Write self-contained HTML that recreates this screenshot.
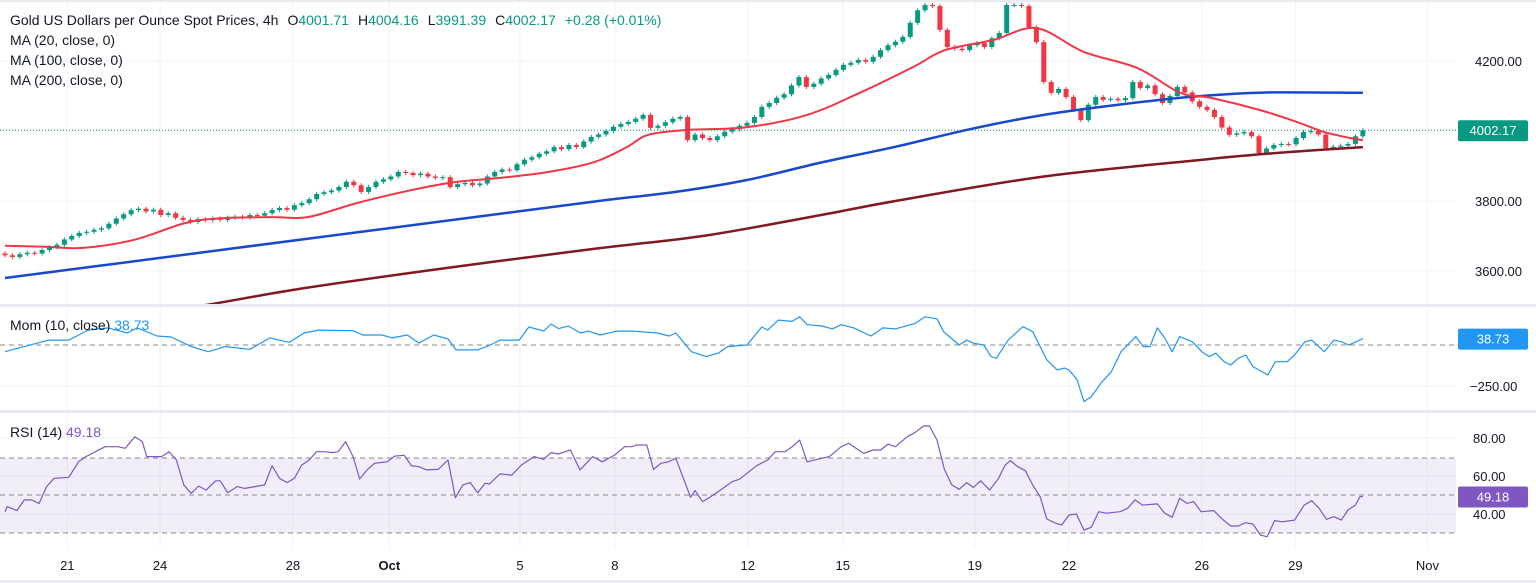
<!DOCTYPE html>
<html><head><meta charset="utf-8"><style>
html,body{margin:0;padding:0;background:#fff;}
svg{display:block;font-family:"Liberation Sans",sans-serif;}
</style></head><body>
<svg id="c" width="1536" height="583" viewBox="0 0 1536 583">
<defs>
<clipPath id="cp"><rect x="0" y="0" width="1456" height="304"/></clipPath>
<clipPath id="cm"><rect x="0" y="307" width="1456" height="103"/></clipPath>
<clipPath id="cr"><rect x="0" y="413" width="1456" height="135"/></clipPath>
</defs>
<rect x="0" y="0" width="1536" height="583" fill="#fff"/>
<g id="grid"></g>
<rect x="0" y="304" width="1536" height="3" fill="#e9ebf0"/>
<rect x="0" y="410" width="1536" height="3" fill="#e9ebf0"/>
<rect x="0" y="0" width="1536" height="2" fill="#e9ebf0"/>
<rect x="0" y="580" width="1536" height="3" fill="#e9ebf0"/>
<rect x="0" y="458" width="1456" height="75" fill="#7e57c2" fill-opacity="0.1"/>
<line x1="0" x2="1456" y1="458" y2="458" stroke="#888" stroke-dasharray="5,4"/>
<line x1="0" x2="1456" y1="495" y2="495" stroke="#888" stroke-dasharray="5,4"/>
<line x1="0" x2="1456" y1="533" y2="533" stroke="#888" stroke-dasharray="5,4"/>
<line x1="0" x2="1456" y1="345" y2="345" stroke="#888" stroke-dasharray="5,4"/>
<g id="price" clip-path="url(#cp)"></g>
<g id="mom" clip-path="url(#cm)"></g>
<g id="rsi" clip-path="url(#cr)"></g>
<g id="axes" font-size="13" fill="#131722"></g>
<g font-size="14">
<text x="10" y="25" fill="#131722">Gold US Dollars per Ounce Spot Prices, 4h<tspan dx="9">O</tspan><tspan fill="#089981">4001.71</tspan><tspan dx="9">H</tspan><tspan fill="#089981">4004.16</tspan><tspan dx="9">L</tspan><tspan fill="#089981">3991.39</tspan><tspan dx="9">C</tspan><tspan fill="#089981">4002.17</tspan><tspan dx="9" fill="#089981">+0.28 (+0.01%)</tspan></text>
<text x="10" y="45" fill="#131722">MA (20, close, 0)</text>
<text x="10" y="65" fill="#131722">MA (100, close, 0)</text>
<text x="10" y="85" fill="#131722">MA (200, close, 0)</text>
<text x="10" y="330" fill="#131722">Mom (10, close) <tspan fill="#2196f3">38.73</tspan></text>
<text x="10" y="437" fill="#131722">RSI (14) <tspan fill="#7e57c2">49.18</tspan></text>
</g>
</svg>
<script>
const closes=[3645,3640,3648,3652,3650,3660,3668,3675,3690,3700,3709,3712,3718,3722,3735,3750,3762,3774,3778,3770,3775,3760,3765,3752,3746,3740,3748,3745,3750,3746,3752,3755,3752,3760,3758,3765,3774,3780,3775,3788,3794,3805,3820,3825,3830,3840,3855,3845,3826,3840,3855,3862,3870,3883,3880,3874,3878,3870,3866,3868,3840,3848,3852,3845,3850,3870,3883,3890,3888,3905,3918,3925,3935,3942,3954,3948,3960,3954,3970,3983,3990,4000,4012,4020,4026,4035,4046,4009,4015,4025,4035,4040,3974,3990,3980,3974,3985,3998,4005,4015,4023,4040,4069,4080,4095,4105,4130,4154,4126,4135,4150,4160,4175,4189,4195,4203,4198,4212,4231,4245,4255,4269,4309,4345,4360,4357,4289,4240,4235,4231,4245,4251,4240,4265,4280,4360,4360,4357,4297,4254,4140,4109,4120,4097,4060,4031,4075,4097,4089,4092,4088,4094,4140,4123,4130,4105,4080,4100,4126,4110,4085,4069,4060,4040,4010,3989,3993,3997,3985,3937,3950,3960,3963,3962,3980,3997,4000,3990,3951,3955,3958,3963,3985,4002];
const firstOpen=3650;
const ma20Idx=[0,5.4,10.5,17.4,24.3,29.4,36,40.8,47.4,54.7,60.6,66.7,73.3,79.4,83.8,86.7,92,100.1,108.1,115.2,122.4,126.7,133.2,139,145.4,152.6,158.4,162.7,169.1,174.1,177.8,181.3,183];
const ma20Val=[3672,3669,3666,3689,3737,3751,3754,3754,3794,3831,3854,3866,3883,3911,3954,3989,4003,4011,4046,4109,4183,4231,4260,4294,4226,4180,4109,4094,4060,4026,3997,3980,3974];
const ma100Idx=[0,20,40,60,80,90,100,110,120,130,140,150,160,170,183];
const ma100Val=[3580,3635,3690,3745,3800,3825,3860,3910,3955,4005,4046,4075,4098,4110,4109];
const ma200Idx=[0,20,40,60,80,94,110,120,140,160,170,183];
const ma200Val=[3445,3480,3550,3610,3665,3700,3760,3800,3870,3915,3935,3954];
const momIdx=[0,2.6,5.9,8.6,11.2,13.9,16.5,17.8,20.5,22.4,25.1,27.4,29.7,33,35.7,38.3,40.3,42.3,46.9,48.2,50.8,52.2,54.2,55.8,57.8,59.7,60.8,63.7,65.4,66.7,69.3,70.6,72.6,73.6,74.6,75.9,77.6,78.6,80.2,82.5,84.5,87.9,89.5,90.4,92.5,94.5,96.1,97.4,100,102,102.8,104.2,106.1,107.1,108.1,110.1,111.5,112.7,114.4,116.7,118.3,120,122,122.6,124,125.6,126.5,128.6,129.6,130.6,131.9,132.9,133.6,135.2,137.2,138.5,140.4,141.8,142.8,143.4,144.5,145.4,146.4,147.7,149.1,150.4,152.4,153.4,154.3,155.3,156.3,157.3,158.3,160,161.3,162.3,163.2,164.3,165.2,166.2,167.2,168.2,170.2,171.2,172.8,173.8,175.2,176.1,177.8,179.1,180.1,181.1,182.1,183];
const momVal=[-41,-10,30,30,91,104,73,104,55,49,-10,-41,-10,-26,43,16,73,91,87,61,61,43,61,12,61,37,-30,-30,0,30,30,110,85,128,100,115,73,85,61,85,85,73,55,73,-41,-71,-50,-10,0,110,91,152,144,172,124,116,98,124,104,55,104,98,124,130,172,160,81,0,30,10,0,-71,-81,30,112,81,-91,-152,-140,-152,-213,-345,-315,-233,-163,-41,51,-10,-10,104,43,-41,51,20,-41,-71,-50,-102,-122,-81,-61,-132,-183,-102,-102,-61,20,30,-41,30,20,0,20,38.73];
const rsiIdx=[0,0.3,1.6,2.6,3.6,4.6,5.6,6.6,8.6,9.9,10.9,13.5,15.2,16.2,17.5,18.5,19.1,21.1,22.1,23.1,24.1,25.1,26.1,27.1,28.4,29,30,31.3,32.3,33.7,35,36,37,38,39,40,41,42,43,44.2,44.9,45.9,46.9,47.8,48.8,49.8,51.5,52.5,53.8,54.8,55.8,56.8,58.4,59.7,60.7,61.7,62.7,63.7,64.7,65.3,66.7,68.3,69.6,71.3,72.6,73.6,74.6,75.9,76.2,77.5,79.2,80.5,82.2,83.5,84.5,85.1,86.5,87.4,88.4,89.4,90.4,92.4,93,94,95,96.4,98,99,101.3,102.8,103.8,105.1,106.1,107.1,108.1,110.1,111.1,112.7,113.7,115.7,117,118,119,120,121.6,122.6,123.8,124.6,125.6,126.6,127.6,128.6,129.6,130.5,131.5,132.7,133.9,134.8,135.5,136.5,137.5,138.5,139.5,140.4,141.4,142.4,143.4,144.4,145.4,146.4,147.4,148.4,150.3,151.3,152.3,153.3,155.3,156.3,157.3,158.3,159.3,160.2,161.2,162.9,164.2,165.2,166.2,167.2,168.2,169.2,170.1,171.1,172.1,173.8,175.1,176.1,177.1,178.1,179.1,180.1,181,182,182.6,183];
const rsiVal=[41.2,43.9,41.8,47.4,47.4,45.6,54.4,58.8,59.3,67.5,70.2,75.4,75.4,74.6,80.7,78.1,70.2,70.2,72.8,68.4,55.3,50.9,54.7,52.6,57.5,57.5,51.2,54.4,53.5,54.4,55.3,65.4,58.8,56.5,58.8,65.8,68.4,72.8,72.8,72.3,72.8,78.1,70.2,58.4,63.2,66.7,67.5,70.5,70.9,65.3,64.9,63.2,63.5,68.4,48.6,55.3,56.5,51.2,56.2,55.8,61.1,60.5,65.8,70.2,68.8,72.3,71.6,73.3,73.7,63.2,70.2,67.5,71.1,75.4,75.4,76.3,76.3,63.5,66.7,67.5,69.3,48.8,52.3,46.5,48.8,52.6,57,58.3,65.4,68.4,72.8,72.8,75.4,78.9,67.5,69.3,70.2,75.4,77.2,71.9,73.7,73.7,76.8,75.4,80.7,82.8,86.3,86.3,78.9,63.5,55.3,53,56.5,54,57.5,52.6,58.8,65.8,68.1,64.9,62.8,55.3,49.1,37.4,35.4,34.2,39.5,40,31.6,33,41.2,40.4,41.2,43,47.4,44.7,45.3,40.4,38.3,48.3,45.6,46.5,41.2,41.8,36.8,33.7,33.7,35.4,34.7,28.9,28,36.5,35.9,36.8,44.7,47,43,37.2,38.6,36.8,42.1,44.7,49.1,49.18];
const dateLabels=["21","24","28","Oct","5","8","12","15","19","22","26","29","Nov"];
const dateIdx=[8.4,20.9,38.8,51.8,69.4,82.2,100.1,112.9,130.7,143.4,161.3,173.9,191.7];
const priceTicks=[3600,3800,4200];
const momTicks=[-250];
const rsiTicks=[80,60,40];
const lastPrice=4002.17, lastMom=38.73, lastRsi=49.18;

const NS="http://www.w3.org/2000/svg";
const xI=i=>5+i*7.42;
const yP=p=>61+(4200-p)*0.35;
const yM=v=>345-v*0.164;
const yR=v=>438+(80-v)*1.9;
function mk(tag,attrs,parent){const e=document.createElementNS(NS,tag);for(const k in attrs)e.setAttribute(k,attrs[k]);parent.appendChild(e);return e;}
const grid=document.getElementById('grid'),price=document.getElementById('price'),mom=document.getElementById('mom'),rsi=document.getElementById('rsi'),axes=document.getElementById('axes');

dateIdx.forEach((d,k)=>{
  const x=xI(d);
  const gl=mk('line',{x1:x,x2:x,y1:0,y2:548,stroke:'#f0f3fa'},grid);
  
  
  const t=mk('text',{x:x,y:570,'text-anchor':'middle','font-weight':dateLabels[k]==='Oct'?'bold':'normal'},axes);
  t.textContent=dateLabels[k];
  
  
});
priceTicks.forEach(p=>{
  const y=yP(p);
  const gl=mk('line',{x1:0,x2:1456,y1:y,y2:y,stroke:'#f0f3fa'},grid);
  
  
  const t=mk('text',{x:1475,y:y+5},axes);t.textContent=p.toFixed(2);
  
  
});
momTicks.forEach(v=>{
  const y=yM(v);
  const gl=mk('line',{x1:0,x2:1456,y1:y,y2:y,stroke:'#f0f3fa'},grid);
  
  
  const t=mk('text',{x:1470,y:y+5},axes);t.textContent=(v<0?'\u2212':'')+Math.abs(v).toFixed(2);
  
  
});
rsiTicks.forEach(v=>{
  const y=yR(v);
  const gl=mk('line',{x1:0,x2:1456,y1:y,y2:y,stroke:'#f0f3fa'},grid);
  
  
  const t=mk('text',{x:1473,y:y+5},axes);t.textContent=v.toFixed(2);
  
  
});

const lp=mk('line',{x1:0,x2:1456,y1:yP(lastPrice),y2:yP(lastPrice),stroke:'#089981','stroke-dasharray':'1,2'},price);



closes.forEach((c,i)=>{
  const o=i===0?firstOpen:closes[i-1];
  const up=c>=o,col=up?'#089981':'#f23645';
  const x=xI(i);
  const hi=Math.max(o,c)+6,lo=Math.min(o,c)-6;
  const w=mk('line',{x1:x,x2:x,y1:yP(hi),y2:yP(lo),stroke:col,'stroke-width':1},price);
  
  
  const top=yP(Math.max(o,c)),h=Math.max(1,yP(Math.min(o,c))-top);
  const b=mk('rect',{x:x-2.5,y:top,width:5,height:h,fill:col},price);
  
  
});
function line(parent,idx,val,yf,col,w,name){
  const d=idx.map((i,k)=>(k?'L':'M')+xI(i).toFixed(1)+','+yf(val[k]).toFixed(1)).join('');
  const p=mk('path',{d:d,fill:'none',stroke:col,'stroke-width':w,'stroke-linejoin':'round'},parent);
  
  
}
function smooth(parent,idx,val,yf,col,w,name){
  const pts=idx.map((i,k)=>[xI(i),yf(val[k])]);
  let d='M'+pts[0][0].toFixed(1)+','+pts[0][1].toFixed(1);
  for(let k=0;k<pts.length-1;k++){
    const p0=pts[Math.max(0,k-1)],p1=pts[k],p2=pts[k+1],p3=pts[Math.min(pts.length-1,k+2)];
    const c1x=p1[0]+(p2[0]-p0[0])/6,c1y=p1[1]+(p2[1]-p0[1])/6;
    const c2x=p2[0]-(p3[0]-p1[0])/6,c2y=p2[1]-(p3[1]-p1[1])/6;
    d+='C'+c1x.toFixed(1)+','+c1y.toFixed(1)+' '+c2x.toFixed(1)+','+c2y.toFixed(1)+' '+p2[0].toFixed(1)+','+p2[1].toFixed(1);
  }
  const p=mk('path',{d:d,fill:'none',stroke:col,'stroke-width':w,'stroke-linejoin':'round'},parent);
  
  
}
smooth(price,ma200Idx,ma200Val,yP,'#801922',2.5,'ma200-line');
smooth(price,ma100Idx,ma100Val,yP,'#1848cc',2.5,'ma100-line');
smooth(price,ma20Idx,ma20Val,yP,'#f23645',2,'ma20-line');
line(mom,momIdx,momVal,yM,'#2196f3',1.2,'momentum-line');
line(rsi,rsiIdx,rsiVal,yR,'#7e57c2',1.2,'rsi-line');

function badge(y,txt,col,name){
  const r=mk('rect',{x:1458,y:y-10,width:70,height:21,rx:2,fill:col},axes);
  
  
  const t=mk('text',{x:1493,y:y+5,'text-anchor':'middle',fill:'#fff'},axes);t.textContent=txt;
  
  
}
badge(yP(lastPrice),lastPrice.toFixed(2),'#089981','last-price-badge');
badge(yM(lastMom),lastMom.toFixed(2),'#2196f3','mom-value-badge');
badge(yR(lastRsi),lastRsi.toFixed(2),'#7e57c2','rsi-value-badge');
</script>
</body></html>
